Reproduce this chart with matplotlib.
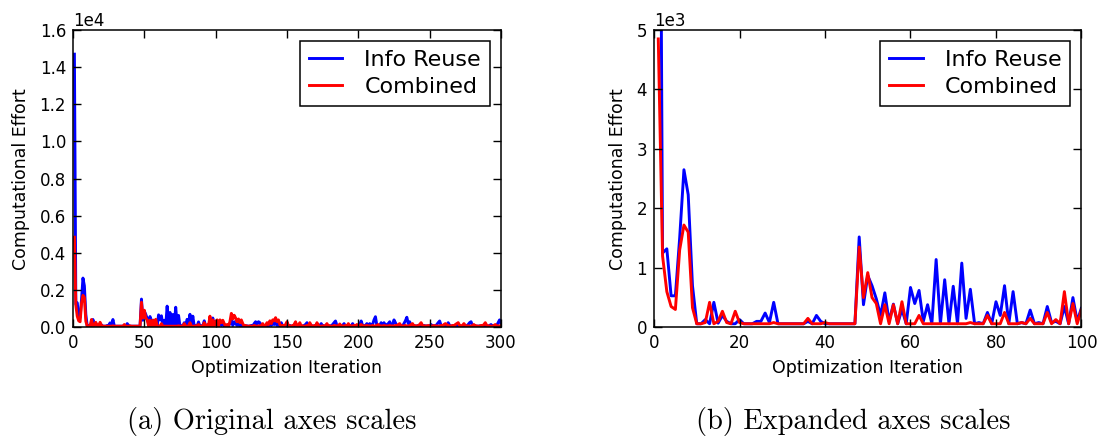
import numpy as np
from matplotlib import pyplot as plt

# computational effort per optimization iteration (iterations 1..300)
iterations = np.arange(1, 301)

info_reuse = [
    14700, 1250, 1320, 530, 530, 1500, 2650, 2230, 700, 60,
    60, 130, 60, 420, 70, 200, 100, 60, 60, 130,
    60, 60, 60, 100, 100, 240, 80, 420, 60, 60,
    60, 60, 60, 60, 60, 100, 60, 200, 100, 60,
    60, 60, 60, 60, 60, 60, 60, 1520, 380, 870,
    700, 480, 200, 580, 100, 390, 60, 300, 60, 670,
    400, 620, 100, 380, 60, 1140, 60, 800, 60, 690,
    60, 1080, 150, 640, 60, 80, 60, 250, 60, 430,
    200, 700, 60, 600, 60, 80, 60, 290, 60, 80,
    60, 350, 80, 100, 60, 350, 60, 500, 100, 330,
    200, 60, 250, 100, 300, 60, 100, 60, 80, 200,
    400, 100, 300, 200, 100, 200, 60, 150, 100, 60,
    60, 80, 60, 60, 100, 60, 200, 300, 150, 300,
    250, 60, 100, 60, 80, 150, 60, 200, 100, 250,
    150, 300, 100, 200, 60, 250, 60, 100, 60, 200,
    60, 100, 60, 60, 80, 200, 60, 60, 100, 60,
    60, 100, 150, 250, 60, 100, 60, 80, 60, 100,
    80, 60, 100, 200, 60, 80, 60, 60, 100, 60,
    80, 150, 250, 340, 100, 60, 80, 60, 100, 200,
    60, 80, 100, 60, 60, 200, 60, 100, 60, 80,
    150, 340, 100, 60, 100, 200, 60, 200, 100, 150,
    400, 570, 100, 60, 100, 250, 60, 250, 100, 150,
    200, 300, 60, 150, 400, 250, 60, 100, 60, 80,
    60, 200, 350, 540, 200, 300, 60, 100, 60, 80,
    60, 100, 60, 80, 60, 100, 60, 80, 60, 60,
    150, 60, 80, 60, 150, 250, 340, 100, 60, 80,
    150, 60, 250, 100, 60, 80, 60, 60, 100, 60,
    80, 60, 60, 100, 60, 80, 150, 250, 300, 100,
    60, 80, 60, 60, 80, 60, 60, 100, 60, 80,
    60, 100, 150, 60, 80, 60, 100, 250, 400, 200,
]

combined = [
    4850, 1200, 600, 350, 300, 1300, 1720, 1600, 330, 60,
    60, 80, 420, 60, 100, 270, 80, 60, 270, 80,
    60, 60, 60, 60, 60, 60, 60, 80, 60, 60,
    60, 60, 60, 60, 60, 150, 60, 60, 60, 80,
    60, 60, 60, 60, 60, 60, 60, 1350, 500, 920,
    500, 400, 60, 380, 60, 380, 60, 430, 60, 60,
    60, 200, 60, 60, 60, 60, 60, 60, 60, 60,
    60, 60, 60, 80, 60, 60, 60, 200, 60, 60,
    60, 250, 60, 60, 60, 80, 60, 150, 60, 60,
    60, 250, 60, 130, 60, 600, 60, 400, 60, 300,
    400, 60, 400, 250, 380, 200, 60, 150, 60, 300,
    750, 450, 650, 500, 300, 450, 250, 400, 200, 60,
    100, 60, 60, 80, 60, 60, 100, 60, 60, 80,
    60, 100, 200, 60, 100, 250, 150, 350, 200, 400,
    350, 520, 300, 400, 150, 60, 100, 60, 150, 300,
    100, 60, 80, 60, 150, 300, 60, 100, 250, 60,
    80, 60, 60, 100, 60, 250, 100, 60, 80, 60,
    250, 100, 60, 60, 80, 60, 100, 200, 60, 80,
    60, 60, 100, 60, 80, 60, 180, 60, 80, 60,
    100, 60, 200, 60, 80, 60, 100, 60, 150, 60,
    100, 150, 60, 80, 60, 100, 60, 80, 60, 100,
    60, 80, 100, 150, 60, 80, 60, 100, 60, 80,
    60, 100, 60, 80, 60, 100, 60, 150, 200, 60,
    80, 60, 100, 60, 80, 60, 150, 200, 60, 80,
    60, 100, 150, 250, 100, 60, 80, 60, 100, 60,
    80, 60, 100, 60, 80, 60, 60, 100, 60, 150,
    200, 150, 60, 80, 60, 100, 60, 150, 200, 250,
    100, 60, 100, 200, 100, 60, 80, 60, 60, 100,
    150, 60, 80, 60, 60, 100, 60, 150, 250, 100,
    60, 80, 60, 60, 100, 150, 60, 80, 60, 100,
]

plt.rcParams['xtick.direction'] = 'in'
plt.rcParams['ytick.direction'] = 'in'
plt.rcParams['xtick.top'] = True
plt.rcParams['ytick.right'] = True
plt.rcParams['xtick.major.size'] = 6
plt.rcParams['ytick.major.size'] = 6
plt.rcParams['xtick.major.width'] = 1
plt.rcParams['ytick.major.width'] = 1
plt.rcParams['xtick.major.pad'] = 5
plt.rcParams['ytick.major.pad'] = 5
plt.rcParams['xtick.labelsize'] = 12
plt.rcParams['ytick.labelsize'] = 12
plt.rcParams['axes.linewidth'] = 1.1
plt.rcParams['axes.axisbelow'] = False

fig = plt.figure(figsize=(11.04, 4.38), dpi=100)
ax_a = fig.add_axes([0.0661, 0.2527, 0.3877, 0.6788])
ax_b = fig.add_axes([0.5924, 0.2527, 0.3872, 0.6788])

panels = [
    (ax_a, 300, 16000, np.arange(0, 301, 50), np.arange(0, 16001, 2000)),
    (ax_b, 100, 5000, np.arange(0, 101, 20), np.arange(0, 5001, 1000)),
]

for ax, x_max, y_max, xticks, yticks in panels:
    ax.plot(iterations, info_reuse, color='b', lw=2.1, label='Info Reuse')
    ax.plot(iterations, combined, color='r', lw=2.1, label='Combined')
    ax.set_xlim(0, x_max)
    ax.set_ylim(0, y_max)
    ax.set_xticks(xticks)
    ax.set_yticks(yticks)
    ax.ticklabel_format(axis='y', style='sci', scilimits=(0, 0))
    ax.yaxis.get_offset_text().set_fontsize(12)
    ax.set_xlabel('Optimization Iteration', fontsize=12.5, labelpad=5)
    ax.set_ylabel('Computational Effort', fontsize=12.5, labelpad=7)
    leg = ax.legend(loc='upper right', fontsize=16, fancybox=False,
                    handlelength=1.5, handletextpad=1.0, borderpad=0.4,
                    labelspacing=0.3, borderaxespad=0.5, framealpha=1)
    leg.get_frame().set_edgecolor('k')
    leg.get_frame().set_linewidth(1.1)

# subfigure captions
fig.text(0.246, 0.0205, '(a) Original axes scales', family='cmr10',
         fontsize=20.5, ha='center', va='baseline')
fig.text(0.7727, 0.0205, '(b) Expanded axes scales', family='cmr10',
         fontsize=20.5, ha='center', va='baseline')

fig.savefig('out.png', dpi=100, facecolor='white')
